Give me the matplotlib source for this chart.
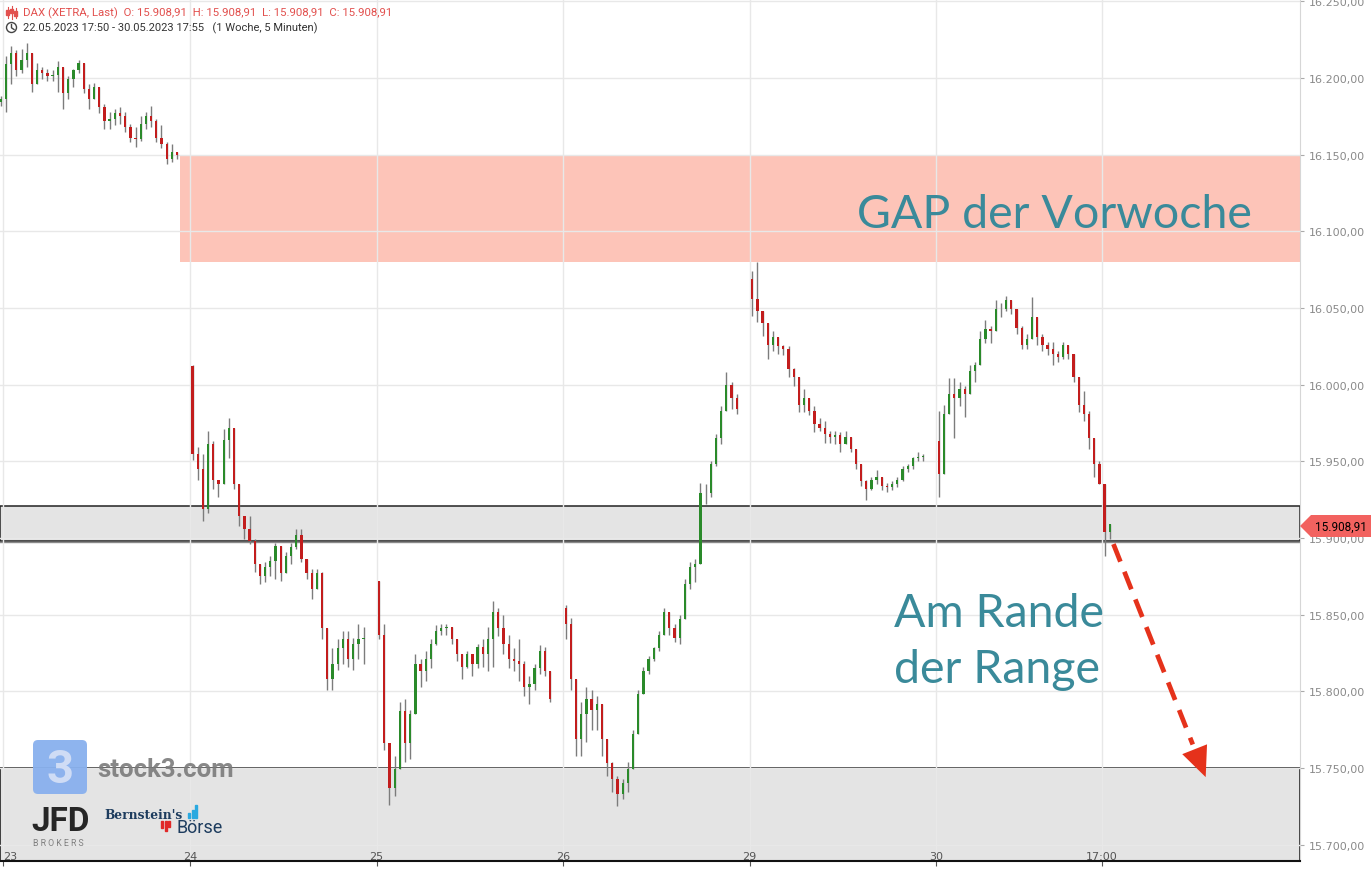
import matplotlib

matplotlib.use("Agg")
import matplotlib.pyplot as plt
import numpy as np
from matplotlib.patches import Rectangle, Polygon, FancyBboxPatch, Circle, FancyArrowPatch
from matplotlib.ticker import FuncFormatter

# ---------------------------------------------------------------- data
# 15-minute candles, 34 per session (09:00-17:30), one list per trading day
DAY_LABELS = ["23", "24", "25", "26", "29", "30"]
DAY_OPEN = [16186, 16012, 15872, 15854, 16069, 15963]

# last bar of 22.05. (before the first session)
PRE_BAR = {"open": 16184, "high": 16188, "low": 16182, "close": 16186}

CLOSE_23 = [16209, 16216, 16205, 16212, 16216, 16196, 16205, 16203, 16201, 16202, 16207, 16190,
            16199, 16205, 16210, 16193, 16186, 16194, 16181, 16172, 16173, 16177, 16175, 16168,
            16161, 16160, 16170, 16175, 16172, 16161, 16157, 16147, 16152, 16150]
HIGH_23 = [16214, 16221, 16218, 16219, 16223, 16212, 16210, 16207, 16206, 16205, 16211, 16206,
           16201, 16206, 16212, 16209, 16196, 16197, 16194, 16183, 16178, 16180, 16181, 16178,
           16170, 16168, 16175, 16178, 16182, 16173, 16169, 16158, 16157, 16152]
LOW_23 = [16178, 16196, 16201, 16203, 16207, 16191, 16197, 16199, 16198, 16198, 16191, 16180,
          16186, 16194, 16203, 16190, 16180, 16186, 16177, 16167, 16167, 16169, 16170, 16165,
          16158, 16155, 16159, 16167, 16168, 16158, 16154, 16144, 16145, 16147]

CLOSE_24 = [15955, 15945, 15919, 15961, 15938, 15935, 15964, 15972, 15935, 15914, 15906, 15898,
            15883, 15875, 15881, 15885, 15895, 15877, 15888, 15894, 15902, 15886, 15877, 15867,
            15877, 15841, 15808, 15818, 15828, 15834, 15821, 15831, 15834, 15834]
HIGH_24 = [16013, 15959, 15955, 15970, 15963, 15937, 15971, 15978, 15972, 15925, 15914, 15914,
           15899, 15880, 15884, 15888, 15897, 15894, 15891, 15897, 15906, 15906, 15886, 15880,
           15880, 15878, 15841, 15828, 15834, 15839, 15839, 15835, 15844, 15842]
LOW_24 = [15951, 15938, 15911, 15916, 15932, 15927, 15935, 15952, 15932, 15908, 15899, 15896,
          15878, 15870, 15871, 15875, 15873, 15872, 15877, 15883, 15893, 15884, 15873, 15860,
          15870, 15834, 15801, 15801, 15814, 15818, 15816, 15814, 15821, 15818]

CLOSE_25 = [15837, 15766, 15737, 15749, 15787, 15766, 15785, 15818, 15813, 15821, 15831, 15839,
            15841, 15842, 15834, 15824, 15816, 15824, 15818, 15829, 15824, 15834, 15852, 15841,
            15831, 15821, 15820, 15818, 15803, 15805, 15815, 15826, 15813, 15795]
HIGH_25 = [15872, 15844, 15763, 15758, 15793, 15795, 15788, 15824, 15821, 15826, 15834, 15843,
           15844, 15844, 15839, 15831, 15822, 15826, 15824, 15831, 15834, 15842, 15859, 15854,
           15850, 15837, 15828, 15834, 15820, 15810, 15818, 15830, 15829, 15813]
LOW_25 = [15834, 15762, 15726, 15732, 15756, 15754, 15756, 15785, 15803, 15807, 15815, 15830,
          15837, 15837, 15831, 15820, 15808, 15815, 15810, 15815, 15816, 15813, 15816, 15836,
          15824, 15815, 15813, 15807, 15797, 15792, 15801, 15811, 15810, 15793]

CLOSE_26 = [15844, 15808, 15769, 15785, 15795, 15788, 15792, 15769, 15753, 15743, 15733, 15740,
            15749, 15772, 15798, 15813, 15821, 15828, 15837, 15852, 15841, 15835, 15847, 15870,
            15881, 15883, 15929, 15929, 15948, 15965, 15983, 16000, 15991, 15984]
HIGH_26 = [15856, 15848, 15803, 15793, 15803, 15801, 15797, 15792, 15764, 15754, 15745, 15743,
           15754, 15775, 15801, 15816, 15823, 15829, 15839, 15854, 15852, 15844, 15850, 15873,
           15884, 15886, 15936, 15935, 15950, 15968, 15986, 16008, 16002, 15994]
LOW_26 = [15834, 15801, 15758, 15758, 15767, 15775, 15775, 15758, 15745, 15734, 15725, 15730,
          15734, 15751, 15772, 15798, 15811, 15820, 15826, 15837, 15837, 15832, 15831, 15847,
          15867, 15871, 15883, 15922, 15927, 15947, 15961, 15984, 15984, 15981]

CLOSE_29 = [16056, 16048, 16040, 16026, 16031, 16025, 16023, 16010, 16005, 15987, 15991, 15983,
            15974, 15972, 15968, 15966, 15967, 15961, 15966, 15958, 15948, 15937, 15932, 15938,
            15940, 15934, 15933, 15935, 15938, 15945, 15947, 15952, 15953, 15953]
HIGH_29 = [16074, 16080, 16044, 16038, 16035, 16030, 16026, 16025, 16011, 16004, 15997, 15991,
           15986, 15978, 15976, 15970, 15970, 15969, 15970, 15965, 15958, 15945, 15938, 15940,
           15944, 15938, 15936, 15937, 15940, 15947, 15948, 15953, 15956, 15955]
LOW_29 = [16045, 16041, 16032, 16017, 16022, 16020, 16019, 16005, 15999, 15982, 15982, 15980,
          15969, 15970, 15962, 15962, 15961, 15956, 15963, 15956, 15945, 15934, 15925, 15931,
          15935, 15931, 15930, 15931, 15933, 15937, 15943, 15945, 15950, 15950]

CLOSE_30 = [15942, 15981, 15994, 15991, 15997, 15994, 16009, 16013, 16030, 16036, 16035, 16049,
            16049, 16055, 16049, 16037, 16026, 16030, 16044, 16031, 16026, 16023, 16020, 16018,
            16026, 16020, 16005, 15987, 15981, 15965, 15948, 15935, 15904, 15908.91]
HIGH_30 = [15983, 15987, 16004, 16004, 16002, 15999, 16013, 16015, 16035, 16042, 16038, 16055,
           16053, 16058, 16055, 16049, 16038, 16033, 16057, 16044, 16033, 16028, 16028, 16022,
           16028, 16026, 16020, 16005, 15996, 15983, 15961, 15950, 15935, 15909]
LOW_30 = [15927, 15948, 15982, 15965, 15986, 15979, 15997, 16002, 16015, 16027, 16027, 16036,
          16044, 16048, 16046, 16033, 16023, 16023, 16032, 16026, 16022, 16019, 16013, 16015,
          16017, 16017, 16002, 15982, 15976, 15958, 15940, 15935, 15888, 15899]

CLOSES = [CLOSE_23, CLOSE_24, CLOSE_25, CLOSE_26, CLOSE_29, CLOSE_30]
HIGHS = [HIGH_23, HIGH_24, HIGH_25, HIGH_26, HIGH_29, HIGH_30]
LOWS = [LOW_23, LOW_24, LOW_25, LOW_26, LOW_29, LOW_30]

LAST_PRICE = 15908.91
GAP_ZONE = (16080, 16150)       # gap of the previous week
RANGE_TOP = (15898, 15921)      # upper edge of the range
RANGE_BOTTOM = 15750            # lower edge of the range
X_TICK_LABELS = DAY_LABELS + ["17:00"]

# ---------------------------------------------------------------- style
SESSION_HOURS = 9.0
BAR_HOURS = 0.25
GREEN = "#2a8a2a"
RED = "#c21d1d"
WICK = "#7c7c7c"
TEAL = "#3a8a9a"
HEADER_RED = "#e2504e"


def fmt_de(v, _pos=None):
    s = f"{v:,.2f}"
    return s.replace(",", "X").replace(".", ",").replace("X", ".")


def build_bars():
    xs, o, h, l, c = [], [], [], [], []
    xs.append(-BAR_HOURS / 2)
    o.append(PRE_BAR["open"]); h.append(PRE_BAR["high"])
    l.append(PRE_BAR["low"]); c.append(PRE_BAR["close"])
    for d in range(len(CLOSES)):
        prev = DAY_OPEN[d]
        for i, close in enumerate(CLOSES[d]):
            xs.append(d * SESSION_HOURS + (i + 0.5) * BAR_HOURS)
            o.append(prev)
            c.append(close)
            h.append(max(HIGHS[d][i], prev, close))
            l.append(min(LOWS[d][i], prev, close))
            prev = close
    return map(np.array, (xs, o, h, l, c))


fig = plt.figure(figsize=(13.71, 8.70), dpi=100)
ax = fig.add_axes([0, 8 / 870, 1300 / 1371, 862 / 870])

xs, o, h, l, c = build_bars()
up = c >= o
ax.vlines(xs, l, h, color=WICK, lw=1, zorder=3)
ax.bar(xs, np.maximum(np.abs(c - o), 0.6), width=0.11, bottom=np.minimum(o, c),
       color=np.where(up, GREEN, RED), zorder=4, linewidth=0)

x_left, x_right = -0.164, 62.55
ax.set_xlim(x_left, x_right)
ax.set_ylim(15689.3, 16251.5)

# zones
ax.add_patch(Rectangle((8.5, GAP_ZONE[0]), x_right - 8.5, GAP_ZONE[1] - GAP_ZONE[0],
                       facecolor="#fdc4b8", edgecolor="none", zorder=0.3))
ax.add_patch(Rectangle((x_left, RANGE_TOP[0]), x_right - x_left, RANGE_TOP[1] - RANGE_TOP[0],
                       facecolor="#e4e4e4", edgecolor="#222222", lw=1.1, zorder=0.3))
ax.axhline(RANGE_TOP[0] - 0.9, color="#8a8a8a", lw=1, zorder=0.35)
ax.add_patch(Rectangle((x_left, 15600), x_right - x_left, RANGE_BOTTOM - 15600,
                       facecolor="#e4e4e4", edgecolor="#111111", lw=1.1, zorder=0.3))

# axes styling
ax.set_axisbelow(True)
ax.grid(True, color="#e8e8e8", lw=1)
ax.set_yticks(np.arange(15700, 16251, 50))
ax.yaxis.set_major_formatter(FuncFormatter(fmt_de))
ax.yaxis.tick_right()
ax.tick_params(axis="y", length=3, color="#aaaaaa", labelcolor="#8a8a8a",
               labelsize=8, pad=3)
ax.set_xticks([d * SESSION_HOURS for d in range(6)] + [5 * SESSION_HOURS + 8])
ax.set_xticklabels(X_TICK_LABELS)
ax.tick_params(axis="x", direction="out", length=3.6, color="#555555",
               labelcolor="#555555", labelsize=8, pad=-10.5)
ax.get_xticklabels()[0].set_horizontalalignment("left")
for side in ("top", "left"):
    ax.spines[side].set_visible(False)
ax.spines["right"].set_color("#d6d6d6")
ax.spines["bottom"].set_color("#111111")
ax.spines["bottom"].set_linewidth(1.5)
ax.set_facecolor("white")

# dashed arrow
start = (53.55, 15896)
tip = (58.0, 15744)
frac = 0.86
mid = (start[0] + (tip[0] - start[0]) * frac, start[1] + (tip[1] - start[1]) * frac)
ax.plot([start[0], mid[0]], [start[1], mid[1]], color="#e5321b", lw=3.4,
        dashes=(4.0, 2.3), solid_capstyle="butt", zorder=6)
ax.add_patch(FancyArrowPatch(mid, tip, arrowstyle="-|>,head_length=0.9,head_width=0.4",
                             mutation_scale=24, color="#e5321b", lw=0,
                             shrinkA=0, shrinkB=0, zorder=6))

# ---------------------------------------------------------------- overlay in pixel coords
ov = fig.add_axes([0, 0, 1, 1], zorder=5)
ov.set_xlim(0, 1371)
ov.set_ylim(870, 0)
ov.axis("off")
ov.patch.set_alpha(0)

ov.text(857, 228, "GAP der Vorwoche", color=TEAL, fontsize=33.5, family="Lato", va="baseline")
ov.text(894, 627, "Am Rande", color=TEAL, fontsize=33.5, family="Lato", va="baseline")
ov.text(894, 683, "der Range", color=TEAL, fontsize=33.5, family="Lato", va="baseline")

# header
for x0, y0, y1, b0, b1 in [(7.5, 8, 19, 11, 16), (11.5, 7, 20, 10, 14), (15.5, 9, 19, 12, 17)]:
    ov.plot([x0, x0], [y0, y1], color=HEADER_RED, lw=0.8)
    ov.add_patch(Rectangle((x0 - 1.2, b0), 2.4, b1 - b0, color=HEADER_RED))
ov.text(23, 13, "DAX (XETRA, Last)  O: 15.908,91  H: 15.908,91  L: 15.908,91  C: 15.908,91",
        color=HEADER_RED, fontsize=8.2, family="Roboto", va="center")
ov.add_patch(Circle((11.5, 28.5), 5, fill=False, ec="#444444", lw=1))
ov.plot([11.5, 11.5, 14], [25.5, 28.8, 30.5], color="#444444", lw=1)
ov.text(23, 28.5, "22.05.2023 17:50 - 30.05.2023 17:55   (1 Woche, 5 Minuten)",
        color="#333333", fontsize=8, family="Roboto", va="center")

# price tag
ov.add_patch(Polygon([(1300, 527), (1311, 516), (1371, 516), (1371, 538), (1311, 538)],
                     closed=True, fc="#f2625f", ec="none"))
ov.text(1341, 527.5, fmt_de(LAST_PRICE), color="black", fontsize=8.5, family="Roboto",
        ha="center", va="center")

# logos
ov.add_patch(FancyBboxPatch((33, 741), 54, 54, boxstyle="round,pad=0,rounding_size=5",
                            fc="#88b0ee", ec="none", alpha=0.95))
ov.text(60, 770, "3", color="#cfdcf5", fontsize=34, fontweight="bold", family="Roboto",
        ha="center", va="center")
ov.text(97, 770, "stock3.com", color="#7b7b7b", fontsize=18.5, fontweight="bold",
        family="Roboto", va="center", alpha=0.9)
ov.text(31, 831, "JFD", color="#262626", fontsize=24, fontweight="bold", family="Roboto",
        va="baseline")
ov.text(33, 846, "B R O K E R S", color="#808080", fontsize=6.3, family="Roboto", va="baseline")
ov.text(104, 819, "Bernstein's", color="#1d3c5e", fontsize=8.8, fontweight="bold",
        family="DejaVu Serif", va="baseline")
for bx, bh in [(188, 5), (191.5, 8), (195, 13)]:
    ov.add_patch(Rectangle((bx, 819 - bh), 2.2, bh, color="#2aa9e0"))
for bx, bh in [(161, 7), (164.5, 10), (168, 6)]:
    ov.add_patch(Rectangle((bx, 822), 2.2, bh, color="#e02828"))
ov.text(177, 833, "Börse", color="#1d3c5e", fontsize=13, family="Roboto", va="baseline")

fig.savefig("out.png", dpi=100)
plt.close(fig)
